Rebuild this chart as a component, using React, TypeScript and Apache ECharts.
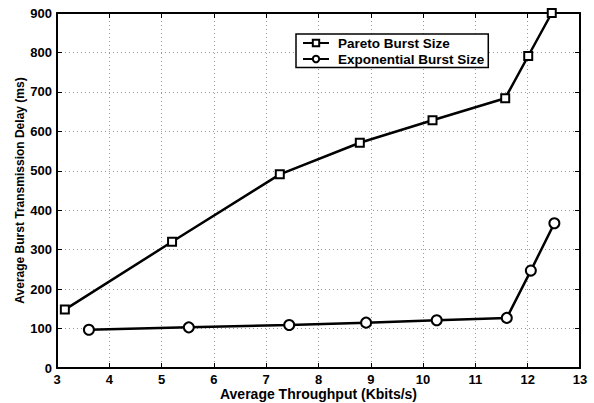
import React, { useEffect, useRef } from "react";
import * as echarts from "echarts";

const paretoX = [3.15, 5.2, 7.26, 8.79, 10.18, 11.57, 12.01, 12.46];
const paretoY = [148, 320, 491, 571, 628, 684, 791, 900];
const expX = [3.61, 5.52, 7.44, 8.91, 10.26, 11.6, 12.06, 12.51];
const expY = [97, 103, 109, 115, 121, 127, 247, 367];
const seriesNames = ["Pareto Burst Size", "Exponential Burst Size"];
const xTitle = "Average Throughput (Kbits/s)";
const yTitle = "Average Burst Transmission Delay (ms)";

export default function App() {
  const ref = useRef<HTMLDivElement>(null);
  useEffect(() => {
    const chart = echarts.init(ref.current!, null, { renderer: "svg" });
    const font = "'Liberation Sans', Arial, sans-serif";
    const axisLine = { show: true, onZero: false, lineStyle: { color: "#000", width: 2 } };
    const tick = { show: true, inside: true, length: 5, lineStyle: { color: "#000", width: 1 } };
    const label = { color: "#000", fontWeight: "bold", fontSize: 13, lineHeight: 12, fontFamily: font };
    chart.setOption({
      animation: false,
      backgroundColor: "#fff",
      grid: {
        left: 57, right: 14, top: 13, bottom: 35,
        containLabel: false, outerBoundsMode: "none",
      },
      legend: {
        orient: "vertical",
        left: 296,
        top: 34,
        padding: [2, 4, 1.5, 6],
        itemGap: 2,
        itemWidth: 26,
        itemHeight: 8,
        backgroundColor: "#fff",
        borderColor: "#000",
        borderWidth: 1.5,
        borderRadius: 0,
        textStyle: {
          color: "#000", fontWeight: "bold", fontSize: 13.5, fontFamily: font,
          lineHeight: 12, padding: [0, 0, 0, 4],
        },
        data: seriesNames,
      },
      xAxis: [
        {
          type: "value", min: 3, max: 13, interval: 1, position: "bottom",
          axisLine, axisTick: tick,
          axisLabel: { ...label, margin: 5 },
          splitLine: { show: true, lineStyle: { color: "#999", type: [1, 3], width: 1 } },
          name: xTitle, nameLocation: "middle", nameGap: 18.5, nameMoveOverlap: false,
          nameTextStyle: { color: "#000", fontWeight: "bold", fontSize: 14, lineHeight: 14, fontFamily: font },
        },
        {
          type: "value", min: 3, max: 13, interval: 1, position: "top",
          axisLine, axisTick: tick, axisLabel: { show: false }, splitLine: { show: false },
        },
      ],
      yAxis: [
        {
          type: "value", min: 0, max: 900, interval: 100, position: "left",
          axisLine, axisTick: tick,
          axisLabel: { ...label, margin: 5 },
          splitLine: { show: true, lineStyle: { color: "#999", type: [1, 3], width: 1 } },
          name: yTitle, nameLocation: "middle", nameGap: 31, nameMoveOverlap: false,
          nameTextStyle: { color: "#000", fontWeight: "bold", fontSize: 12, fontFamily: font },
        },
        {
          type: "value", min: 0, max: 900, interval: 100, position: "right",
          axisLine, axisTick: tick, axisLabel: { show: false }, splitLine: { show: false },
        },
      ],
      series: [
        {
          name: seriesNames[0], type: "line",
          data: paretoX.map((x, i) => [x, paretoY[i]]),
          symbol: "rect", symbolSize: 8,
          itemStyle: { color: "#fff", borderColor: "#000", borderWidth: 2 },
          lineStyle: { color: "#000", width: 2.5 },
          z: 3,
        },
        {
          name: seriesNames[1], type: "line",
          data: expX.map((x, i) => [x, expY[i]]),
          symbol: "circle", symbolSize: 10,
          itemStyle: { color: "#fff", borderColor: "#000", borderWidth: 2 },
          lineStyle: { color: "#000", width: 2.5 },
          z: 3,
        },
      ],
    });
    return () => chart.dispose();
  }, []);
  return (
    <div
      ref={ref}
      style={{ position: "fixed", left: 0, top: 0, width: 594, height: 403, background: "#fff" }}
    />
  );
}
